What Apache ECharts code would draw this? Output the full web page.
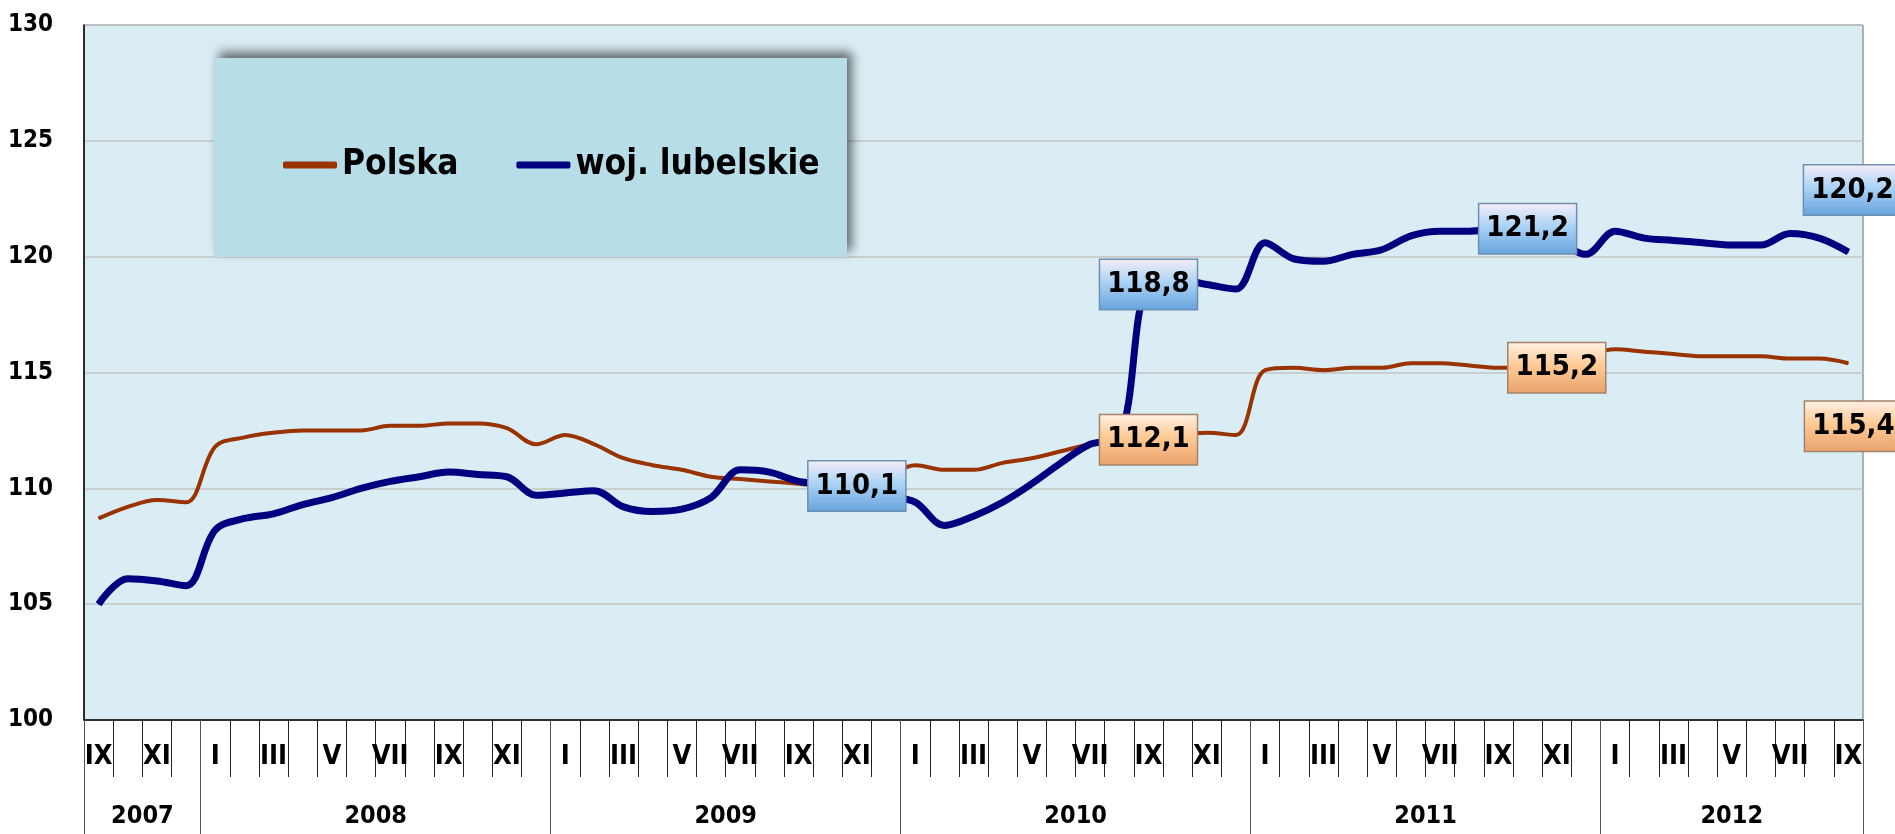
<!DOCTYPE html>
<html>
<head>
<meta charset="utf-8">
<title>Polska / woj. lubelskie</title>
<script src="https://cdn.jsdelivr.net/npm/echarts@6/dist/echarts.min.js"></script>
<style>
  html, body { margin: 0; padding: 0; background: #fff; }
  #chart { width: 1895px; height: 834px; }
</style>
</head>
<body>
<div id="chart"></div>
<script>
// miesiące IX 2007 - IX 2012
var months = [
  'IX', 'X', 'XI', 'XII',
  'I', 'II', 'III', 'IV', 'V', 'VI', 'VII', 'VIII', 'IX', 'X', 'XI', 'XII',
  'I', 'II', 'III', 'IV', 'V', 'VI', 'VII', 'VIII', 'IX', 'X', 'XI', 'XII',
  'I', 'II', 'III', 'IV', 'V', 'VI', 'VII', 'VIII', 'IX', 'X', 'XI', 'XII',
  'I', 'II', 'III', 'IV', 'V', 'VI', 'VII', 'VIII', 'IX', 'X', 'XI', 'XII',
  'I', 'II', 'III', 'IV', 'V', 'VI', 'VII', 'VIII', 'IX'
]
var yearNames = ['2007', '2008', '2009', '2010', '2011', '2012']
var yearLengths = [4, 12, 12, 12, 12, 9]

var polska = [
  108.7, 109.2, 109.5, 109.4,
  111.8, 112.2, 112.4, 112.5, 112.5, 112.5, 112.7, 112.7, 112.8, 112.8, 112.6, 111.9,
  112.3, 111.9, 111.3, 111.0, 110.8, 110.5, 110.4, 110.3, 110.2, 110.1, 110.2, 110.5,
  111.0, 110.8, 110.8, 111.1, 111.3, 111.6, 111.9, 112.0, 112.1, 112.3, 112.4, 112.3,
  115.1, 115.2, 115.1, 115.2, 115.2, 115.4, 115.4, 115.3, 115.2, 115.2, 115.2, 115.7,
  116.0, 115.9, 115.8, 115.7, 115.7, 115.7, 115.6, 115.6, 115.4
]
var lubelskie = [
  105.0, 106.1, 106.0, 105.8,
  108.2, 108.7, 108.9, 109.3, 109.6, 110.0, 110.3, 110.5, 110.7, 110.6, 110.5, 109.7,
  109.8, 109.9, 109.2, 109.0, 109.1, 109.6, 110.8, 110.7, 110.3, 110.2, 110.1, 109.7,
  109.4, 108.4, 108.8, 109.4, 110.2, 111.1, 111.9, 112.2, 118.8, 119.0, 118.8, 118.6,
  120.6, 119.9, 119.8, 120.1, 120.3, 120.9, 121.1, 121.1, 121.2, 121.2, 120.7, 120.1,
  121.1, 120.8, 120.7, 120.6, 120.5, 120.5, 121.0, 120.8, 120.2
]
// punkty z etykietą (indeks miesiąca)
var polskaLabels = [36, 50, 60]
var lubelskieLabels = [26, 36, 49, 60]

var font = "'Liberation Sans Narrow', 'Arial Narrow', 'DejaVu Sans Condensed', sans-serif"

// oś lat: kategorie powtórzone dla każdego miesiąca
var yearCats = []
var yearStarts = []
var yearMid = {}
var start = 0
yearNames.forEach(function (y, k) {
  var n = yearLengths[k]
  for (var j = 0; j < n; j++) yearCats.push(y)
  yearStarts.push(start)
  yearMid[start + Math.floor(n / 2)] = n % 2 === 0
  start += n
})

function fmt (p) {
  return p.value.toFixed(1).replace('.', ',')
}

function boxLabel (kind, offset) {
  var stops = kind === 'blue'
    ? [{ offset: 0, color: '#f7eef8' }, { offset: 0.45, color: '#acd3f5' }, { offset: 1, color: '#66a3de' }]
    : [{ offset: 0, color: '#fff1e8' }, { offset: 0.45, color: '#ffca94' }, { offset: 1, color: '#e9a26e' }]
  return {
    show: true,
    position: 'inside',
    offset: offset || [0, 0],
    formatter: fmt,
    fontFamily: font,
    fontSize: 29,
    fontWeight: 'bold',
    color: '#000',
    lineHeight: 38,
    padding: [6, 7, 5, 7],
    backgroundColor: new echarts.graphic.LinearGradient(0, 0, 0, 1, stops),
    borderColor: kind === 'blue' ? '#6f8fb2' : '#a3826a',
    borderWidth: 1.5
  }
}

function withLabels (values, idx, kind) {
  return values.map(function (v, i) {
    if (idx.indexOf(i) < 0) return v
    var off = [0, 0]
    if (i === values.length - 1) off = kind === 'blue' ? [4, -62] : [5, 63]
    return { value: v, label: boxLabel(kind, off) }
  })
}

var chart = echarts.init(document.getElementById('chart'))
chart.setOption({
  animation: false,
  backgroundColor: '#fff',
  grid: {
    left: 84,
    right: 32,
    top: 25,
    bottom: 114,
    show: true,
    backgroundColor: '#dbedf4',
    borderColor: '#6a6a6a',
    borderWidth: 1
  },
  graphic: [
    {
      type: 'rect',
      z: 3,
      shape: { x: 214, y: 58, width: 633, height: 199 },
      style: {
        fill: '#b7dde8',
        shadowBlur: 10,
        shadowColor: 'rgba(0,0,0,0.55)',
        shadowOffsetX: 5,
        shadowOffsetY: -6
      }
    },
    {
      // zamknięcie ostatniego roku pod osią
      type: 'line',
      z: 3,
      shape: { x1: 1863.5, y1: 720, x2: 1863.5, y2: 834 },
      style: { stroke: '#555', lineWidth: 1 }
    }
  ],
  legend: {
    left: 278,
    top: 139,
    itemGap: 58,
    itemWidth: 54,
    itemHeight: 7,
    icon: 'roundRect',
    data: ['Polska', 'woj. lubelskie'],
    textStyle: {
      fontFamily: font,
      fontSize: 35,
      fontWeight: 'bold',
      color: '#000',
      lineHeight: 42
    }
  },
  xAxis: [
    {
      type: 'category',
      data: months,
      boundaryGap: true,
      axisLine: { lineStyle: { color: '#000', width: 1.5 } },
      axisTick: { show: true, interval: 0, length: 57, lineStyle: { color: '#222', width: 1 } },
      axisLabel: {
        interval: 1,
        margin: 23,
        fontFamily: font,
        fontSize: 27,
        fontWeight: 'bold',
        color: '#000',
        lineHeight: 28
      },
      splitLine: { show: false }
    },
    {
      type: 'category',
      data: yearCats,
      position: 'bottom',
      boundaryGap: true,
      axisLine: { show: false },
      axisTick: {
        show: true,
        length: 114,
        interval: function (i) { return yearStarts.indexOf(i) >= 0 },
        lineStyle: { color: '#555', width: 1 }
      },
      axisLabel: {
        margin: 82,
        interval: function (i) { return yearMid.hasOwnProperty(i) },
        formatter: function (v, i) {
          return yearMid[i] ? '{s|' + v + '}' : '{c|' + v + '}'
        },
        rich: {
          s: { fontFamily: font, fontSize: 25, fontWeight: 'bold', color: '#000', lineHeight: 28, padding: [0, 29, 0, 0] },
          c: { fontFamily: font, fontSize: 25, fontWeight: 'bold', color: '#000', lineHeight: 28 }
        }
      },
      splitLine: { show: false }
    }
  ],
  yAxis: {
    type: 'value',
    min: 100,
    max: 130,
    interval: 5,
    axisLine: { show: true, lineStyle: { color: '#000', width: 1.5 } },
    axisTick: { show: false },
    axisLabel: {
      margin: 31,
      fontFamily: font,
      fontSize: 24,
      fontWeight: 'bold',
      color: '#000'
    },
    splitLine: { lineStyle: { color: '#c3c3c3', width: 1.5 } }
  },
  series: [
    {
      name: 'Polska',
      type: 'line',
      data: withLabels(polska, polskaLabels, 'orange'),
      smooth: 0.35,
      symbol: 'circle',
      symbolSize: 1,
      showAllSymbol: true,
      color: '#993300',
      lineStyle: { color: '#993300', width: 4 },
      label: { show: false }
    },
    {
      name: 'woj. lubelskie',
      type: 'line',
      data: withLabels(lubelskie, lubelskieLabels, 'blue'),
      smooth: 0.35,
      symbol: 'circle',
      symbolSize: 1,
      showAllSymbol: true,
      color: '#000080',
      lineStyle: { color: '#000080', width: 7 },
      label: { show: false }
    }
  ]
})
</script>
</body>
</html>
